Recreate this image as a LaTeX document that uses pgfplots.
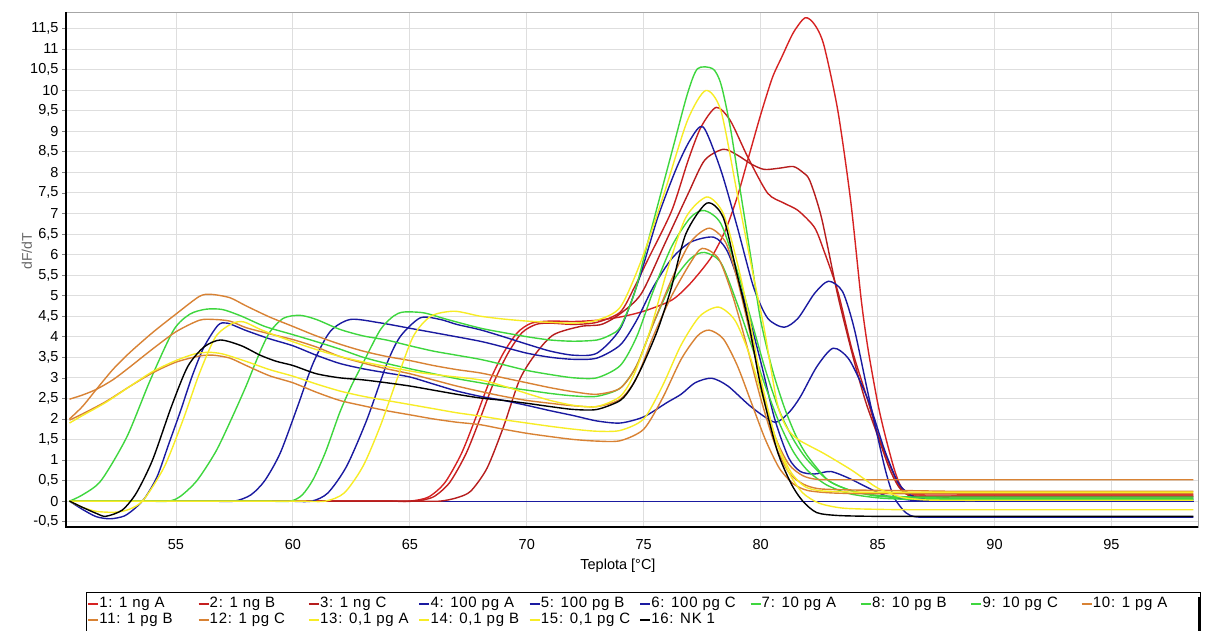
\documentclass[border=0pt]{standalone}
\usepackage{fontspec}
\setmainfont{Liberation Sans}
\newfontfamily\legfont[LetterSpace=5]{Liberation Sans}
\usepackage{pgfplots}
\pgfplotsset{compat=1.18}
\definecolor{cred}{RGB}{214,34,34}
\definecolor{cblue}{RGB}{26,26,160}
\definecolor{cgreen}{RGB}{62,214,62}
\definecolor{corange}{RGB}{216,130,52}
\definecolor{cyellow}{RGB}{247,236,38}
\newcommand{\lb}[2][98pt]{\makebox[#1][l]{#2}}
\begin{document}
\begin{tikzpicture}[x=1pt,y=1pt]
\path[use as bounding box] (0,0) rectangle (1209,630);
\begin{axis}[
  at={(66pt,103pt)}, anchor=south west,
  width=1132pt, height=515pt, scale only axis,
  xmin=50.3, xmax=98.7, ymin=-0.63, ymax=11.9,
  enlargelimits=false,
  xtick={55,60,...,95},
  ytick={-0.5,0,0.5,1,1.5,2,2.5,3,3.5,4,4.5,5,5.5,6,6.5,7,7.5,8,8.5,9,9.5,10,10.5,11,11.5},
  tick label style={font=\fontsize{14.5}{16}\selectfont},
  /pgf/number format/assume math mode=true,
  yticklabel style={/pgf/number format/.cd, fixed, precision=1, use comma},
  xticklabel style={/pgf/number format/.cd, fixed, precision=0, /tikz/.cd, yshift=-5pt},
  tick align=outside, tick pos=left,
  xtick style={draw=none},
  ytick style={draw=gray, line width=0.6pt},
  major tick length=4pt,
  grid=major,
  grid style={draw=black!13, line width=0.8pt},
  axis line style={draw=gray!70, line width=0.8pt},
  xlabel={Teplota [°C]},
  xlabel style={at={(axis description cs:0.4876,0)}, anchor=north, yshift=-28pt, font=\fontsize{14.5}{16}\selectfont},
  ylabel={dF/dT},
  ylabel style={at={(axis description cs:-0.0345,0.535)}, anchor=center, font=\fontsize{14}{16}\selectfont, color=black!60},
  every axis plot/.append style={line width=1.4pt, smooth, tension=0.45},
  legend columns=10,
  legend cell align=left,
  legend image code/.code={\draw[#1] (0pt,0pt) -- (10pt,0pt);},
  legend style={at={(0.01767,-0.1262)}, anchor=north west, draw=black, line width=0.8pt,
    inner xsep=1pt, inner ysep=3.5pt,
    font=\legfont\fontsize{15}{16}\selectfont,
    nodes={inner sep=0.5pt, text height=11pt, text depth=4pt, anchor=west},
    /tikz/column sep=0pt},
  after end axis/.code={\draw[black, line width=2pt] (rel axis cs:0,1) -- (rel axis cs:0,0) -- (rel axis cs:1,0);},
]
% baseline
\addplot[cblue, line width=0.9pt, forget plot] coordinates {(50.45,0) (98.5,0)};
% 1: 1 ng A
\addplot[cred] coordinates {(50.45,0) (63,0) (64,0) (65.0,0) (65.8,0.1) (66.5,0.45) (67.2,1.15) (67.8,2.0) (68.4,2.9) (69.0,3.6) (69.6,4.1) (70.2,4.33) (71,4.38) (72,4.37) (73,4.4) (74,4.48) (75,4.62) (76.2,4.89) (77,5.3) (77.9,5.94) (78.5,6.6) (79.0,7.4) (79.5,8.4) (80.0,9.4) (80.5,10.3) (80.9,10.8) (81.4,11.4) (81.9,11.76) (82.3,11.6) (82.7,11.1) (83.3,9.5) (83.85,7.3) (84.3,4.9) (84.6,3.67) (85.0,2.4) (85.3,1.65) (85.7,0.8) (86.0,0.35) (86.4,0.18) (87,0.15) (88.5,0.15) (90,0.15) (98.5,0.15)};
\addlegendentry{\lb{1: 1 ng A}}
% 2: 1 ng B
\addplot[cred!92!black] coordinates {(50.45,0) (63.2,0) (64.2,0) (65.2,0) (66,0.1) (66.7,0.45) (67.4,1.15) (68,2.0) (68.6,2.9) (69.2,3.6) (69.8,4.1) (70.4,4.3) (71,4.33) (72,4.3) (73,4.35) (74,4.6) (74.6,5.2) (75.2,5.9) (76.2,7.07) (76.9,8.29) (77.45,9.1) (78.1,9.58) (78.7,9.26) (79.45,8.37) (80.3,7.49) (81.0,7.25) (81.6,7.07) (82.3,6.66) (82.7,6.1) (83.3,5.1) (83.9,3.7) (84.5,2.6) (85.0,1.65) (85.5,0.9) (85.9,0.4) (86.3,0.15) (87,0.12) (88.5,0.12) (90,0.12) (98.5,0.12)};
\addlegendentry{\lb{2: 1 ng B}}
% 3: 1 ng C
\addplot[cred!85!black] coordinates {(50.45,0) (64.3,0) (65.3,0) (66.3,0) (67,0.08) (67.6,0.24) (68.3,0.8) (69.0,1.8) (69.7,2.96) (70.4,3.6) (71.15,4.05) (72.3,4.25) (73.2,4.3) (74,4.56) (74.9,5.05) (75.9,6.26) (76.9,7.48) (77.6,8.29) (78.4,8.56) (79.0,8.42) (79.6,8.2) (80.15,8.07) (80.8,8.1) (81.4,8.14) (81.8,8.0) (82.1,7.8) (82.6,6.9) (83.3,5.0) (84,3.4) (84.5,2.4) (85,1.6) (85.5,0.8) (85.9,0.35) (86.3,0.15) (87,0.1) (88.5,0.1) (90,0.1) (98.5,0.1)};
\addlegendentry{\lb{3: 1 ng C}}
% 4: 100 pg A
\addplot[cblue] coordinates {(50.45,0) (51,-0.2) (51.6,-0.38) (52.2,-0.43) (52.8,-0.36) (53.3,-0.15) (53.7,0.1) (54.2,0.6) (54.7,1.4) (55.2,2.2) (55.7,3.05) (56.2,3.75) (56.8,4.28) (57.2,4.33) (58,4.15) (59,3.95) (60,3.78) (61,3.55) (62,3.35) (63,3.22) (64,3.12) (65,3.02) (66,2.85) (67,2.68) (68,2.55) (69,2.45) (70,2.33) (71,2.2) (72,2.08) (73,1.95) (74,1.9) (75,2.05) (76,2.4) (76.6,2.6) (77.2,2.88) (77.9,2.99) (78.6,2.8) (79.6,2.29) (80.6,1.92) (81.2,2.15) (81.7,2.54) (82.4,3.27) (83.1,3.72) (83.8,3.43) (84.6,2.45) (85.3,1.24) (85.9,0.43) (86.5,0.12) (87.2,0.06) (88.7,0.05) (90.2,0.05) (98.5,0.05)};
\addlegendentry{\lb{4: 100 pg A}}
% 5: 100 pg B
\addplot[cblue] coordinates {(50.45,0) (55.5,0) (56.5,0) (57.5,0) (58.2,0.15) (58.8,0.5) (59.46,1.17) (60.2,2.3) (60.87,3.36) (61.6,4.13) (62.46,4.42) (63.7,4.34) (65.15,4.19) (66.5,4.05) (68,3.89) (69,3.75) (70,3.6) (71,3.5) (72,3.45) (73,3.48) (74,3.8) (74.7,4.4) (75.4,5.2) (76.2,5.9) (77,6.3) (78,6.42) (78.6,6.05) (79.3,4.9) (80,3.4) (80.6,2.0) (81.2,1.05) (81.7,0.72) (82.3,0.66) (83,0.72) (83.8,0.55) (84.5,0.35) (85.4,0.12) (86.5,0.02) (88,0.0) (89.5,0.0) (98.5,0.0)};
\addlegendentry{\lb{5: 100 pg B}}
% 6: 100 pg C
\addplot[cblue] coordinates {(50.45,0) (58.8,0) (59.8,0) (60.8,0) (61.5,0.2) (62.3,0.85) (63.17,1.99) (64.03,3.36) (64.6,4.01) (65.45,4.46) (66.3,4.42) (67,4.3) (68,4.17) (69,4.0) (70,3.82) (71,3.65) (72,3.55) (73,3.6) (74,4.2) (74.8,5.4) (75.6,6.9) (76.4,8.1) (77,8.8) (77.55,9.1) (78.3,8.05) (79.0,6.67) (79.7,5.2) (80.3,4.45) (81.0,4.23) (81.6,4.45) (82.3,5.05) (82.9,5.35) (83.5,5.1) (84.0,4.2) (84.6,2.6) (85.3,0.83) (85.7,0.1) (86.2,-0.28) (86.6,-0.38) (87.2,-0.39) (88.7,-0.39) (90.2,-0.39) (98.5,-0.39)};
\addlegendentry{\lb{6: 100 pg C}}
% 7: 10 pg A
\addplot[cgreen] coordinates {(50.45,0) (51,0.15) (51.8,0.5) (52.9,1.56) (53.9,2.94) (54.9,4.16) (55.6,4.55) (56.3,4.67) (57,4.66) (57.8,4.5) (58.8,4.25) (60,4.05) (61,3.88) (62,3.7) (63,3.5) (64,3.35) (65,3.22) (66,3.1) (67,2.98) (68,2.88) (69,2.78) (70,2.7) (71,2.62) (72,2.56) (73,2.55) (74,2.75) (74.7,3.3) (75.4,4.3) (76.2,5.3) (77,5.9) (77.6,6.05) (78.3,5.8) (79,4.8) (79.6,3.8) (80.2,2.8) (80.8,1.9) (81.4,1.2) (82,0.75) (82.8,0.4) (83.8,0.18) (85,0.08) (86,0.05) (87.5,0.04) (89,0.04) (98.5,0.04)};
\addlegendentry{\lb{7: 10 pg A}}
% 8: 10 pg B
\addplot[cgreen] coordinates {(50.45,0) (52.7,0) (53.7,0) (54.7,0) (55.2,0.12) (55.9,0.5) (56.7,1.2) (57.35,1.97) (58,2.8) (58.5,3.5) (59,4.1) (59.6,4.45) (60.3,4.52) (61,4.42) (62,4.18) (63,4.02) (64,3.92) (65,3.78) (66,3.65) (67,3.55) (68,3.45) (69,3.32) (70,3.18) (71,3.08) (72,3.0) (73,3.0) (74,3.3) (74.7,4.0) (75.4,5.1) (76.2,6.2) (77,6.9) (77.6,7.07) (78.3,6.75) (79,5.6) (79.6,4.4) (80.2,3.2) (80.8,2.2) (81.4,1.5) (82,1.0) (82.9,0.5) (83.9,0.25) (85,0.14) (86.5,0.1) (88,0.1) (89.5,0.1) (98.5,0.1)};
\addlegendentry{\lb{8: 10 pg B}}
% 9: 10 pg C
\addplot[cgreen] coordinates {(50.45,0) (57.9,0) (58.9,0) (59.9,0) (60.4,0.15) (60.87,0.53) (61.4,1.2) (62.0,2.15) (62.5,2.8) (63.0,3.36) (63.74,4.17) (64.3,4.5) (64.73,4.6) (65.6,4.58) (66.6,4.42) (68,4.21) (69,4.1) (70,4.0) (71,3.92) (72,3.89) (73,3.92) (73.6,4.05) (74.0,4.24) (74.6,5.05) (75.16,6.26) (75.73,7.48) (76.3,8.7) (76.87,9.91) (77.3,10.52) (77.95,10.52) (78.3,10.15) (78.7,9.1) (79.15,7.48) (79.6,5.86) (80.0,4.4) (80.5,3.2) (81.0,2.3) (81.5,1.6) (82.0,1.1) (82.9,0.5) (83.9,0.25) (85,0.12) (86.5,0.08) (88,0.07) (89.5,0.07) (98.5,0.07)};
\addlegendentry{\lb{9: 10 pg C}}
% 10: 1 pg A
\addplot[corange] coordinates {(50.45,2.0) (51,2.3) (51.6,2.72) (52.3,3.2) (53,3.6) (54,4.1) (55,4.55) (56,4.98) (56.5,5.03) (57.3,4.95) (58,4.75) (59,4.48) (60,4.25) (61,4.02) (62,3.82) (63,3.65) (64,3.52) (65,3.42) (66,3.3) (67,3.2) (68,3.12) (69,3.0) (70,2.88) (71,2.76) (72,2.66) (73,2.6) (74,2.75) (74.7,3.3) (75.4,4.3) (76.2,5.4) (77,6.3) (77.8,6.64) (78.5,6.3) (79,5.4) (79.5,4.2) (80,2.9) (80.6,1.6) (81.2,0.9) (81.8,0.62) (82.4,0.53) (83.5,0.52) (85,0.52) (86.5,0.52) (98.5,0.52)};
\addlegendentry{\lb[106pt]{10: 1 pg A}}
% 11: 1 pg B
\addplot[corange] coordinates {(50.45,2.48) (51,2.58) (51.6,2.72) (52.3,2.95) (53,3.25) (54,3.7) (55,4.12) (56,4.4) (56.6,4.42) (57.3,4.38) (58,4.22) (59,4.07) (60,3.93) (61,3.75) (62,3.52) (63,3.36) (64,3.22) (65,3.1) (66,2.95) (67,2.8) (68,2.67) (69,2.55) (70,2.45) (71,2.38) (72,2.32) (73,2.3) (74,2.48) (74.7,3.0) (75.4,4.0) (76.2,5.0) (77,5.8) (77.5,6.15) (78.2,5.9) (78.8,5.0) (79.4,3.8) (80,2.5) (80.6,1.4) (81.2,0.7) (81.8,0.42) (82.5,0.3) (84,0.27) (85.5,0.26) (87,0.25) (88.5,0.24) (98.5,0.24)};
\addlegendentry{\lb{11: 1 pg B}}
% 12: 1 pg C
\addplot[corange] coordinates {(50.45,1.97) (51,2.12) (52,2.42) (53,2.78) (54,3.12) (55,3.38) (56,3.53) (56.6,3.55) (57.3,3.48) (58,3.3) (59,3.05) (60,2.88) (61,2.65) (62,2.45) (63,2.32) (64,2.2) (65,2.1) (66,2.0) (67,1.92) (68,1.86) (69,1.75) (70,1.65) (71,1.57) (72,1.5) (73,1.46) (74,1.47) (75,1.75) (75.8,2.5) (76.6,3.45) (77.3,4.02) (77.8,4.16) (78.4,3.95) (79,3.3) (79.6,2.4) (80.2,1.5) (80.8,0.8) (81.4,0.42) (82,0.26) (83,0.2) (84.5,0.18) (86,0.18) (98.5,0.18)};
\addlegendentry{\lb{12: 1 pg C}}
% 13: 0,1 pg A
\addplot[cyellow] coordinates {(50.45,1.9) (51,2.08) (52,2.4) (53,2.78) (54,3.15) (55,3.42) (55.8,3.58) (56.4,3.62) (57,3.58) (58,3.4) (59,3.2) (60,3.04) (61,2.85) (62,2.68) (63,2.55) (64,2.45) (65,2.35) (66,2.25) (67,2.15) (68,2.07) (69,1.98) (70,1.9) (71,1.82) (72,1.75) (73,1.7) (74,1.72) (75,2.0) (75.8,2.8) (76.6,3.8) (77.4,4.5) (78.2,4.72) (78.9,4.4) (79.5,3.6) (80.1,2.5) (80.7,1.4) (81.3,0.7) (81.9,0.35) (82.6,0.25) (84,0.22) (85.5,0.22) (87,0.22) (98.5,0.22)};
\addlegendentry{\lb{13: 0,1 pg A}}
% 14: 0,1 pg B
\addplot[cyellow] coordinates {(50.45,0) (51,-0.15) (51.6,-0.25) (52.4,-0.27) (53,-0.2) (53.6,0.02) (54.5,0.83) (55.3,1.97) (56.0,3.1) (56.7,4.0) (57.4,4.32) (57.9,4.36) (58.6,4.18) (59.5,3.98) (60.5,3.78) (61.5,3.6) (62.5,3.45) (63.5,3.33) (64.5,3.22) (65.5,3.12) (66.5,3.05) (68,2.95) (69,2.8) (70,2.62) (71,2.45) (72,2.33) (73,2.3) (74,2.55) (74.6,3.1) (75.3,4.2) (76,5.6) (76.8,6.9) (77.7,7.4) (78.4,7.0) (79,5.8) (79.5,4.5) (80,3.0) (80.6,1.6) (81.2,0.7) (81.8,0.2) (82.5,-0.05) (83.5,-0.17) (85,-0.2) (86.5,-0.21) (88,-0.21) (98.5,-0.21)};
\addlegendentry{\lb{14: 0,1 pg B}}
% 15: 0,1 pg C
\addplot[cyellow] coordinates {(50.45,0) (59.4,0) (60.4,0) (61.4,0) (62.2,0.2) (63.0,0.85) (63.74,1.83) (64.45,2.96) (65.15,4.01) (65.9,4.5) (66.9,4.62) (68,4.5) (69,4.43) (70,4.38) (71,4.35) (72,4.33) (73,4.4) (74,4.72) (74.9,5.86) (75.87,7.48) (76.87,9.26) (77.65,9.99) (78.3,9.5) (79.0,7.48) (79.7,5.45) (80.15,4.2) (80.7,2.4) (81.1,1.8) (81.6,1.5) (82.7,1.16) (83.9,0.75) (85,0.32) (86,0.1) (87,0.03) (88.5,0.02) (90,0.02) (98.5,0.02)};
\addlegendentry{\lb{15: 0,1 pg C}}
% 16: NK 1
\addplot[black] coordinates {(50.45,0) (51,-0.15) (51.6,-0.3) (52.0,-0.37) (52.7,-0.22) (53.3,0.19) (54,1.0) (54.8,2.29) (55.5,3.27) (56.2,3.75) (56.9,3.92) (57.8,3.78) (58.6,3.55) (59.3,3.4) (60,3.3) (61,3.1) (62,3.0) (63,2.95) (64,2.88) (65,2.8) (66,2.7) (67,2.6) (68,2.51) (69,2.45) (70,2.38) (71,2.3) (72,2.23) (73,2.23) (74,2.45) (74.5,2.8) (75,3.36) (75.6,4.17) (76.16,5.15) (76.8,6.5) (77.7,7.25) (78.4,6.9) (79,5.5) (79.5,4.3) (80,2.8) (80.7,1.24) (81.3,0.43) (81.8,0.0) (82.4,-0.28) (83.3,-0.35) (84.8,-0.37) (86.3,-0.37) (98.5,-0.37)};
\addlegendentry{\lb{16: NK 1}}
\end{axis}
\draw[black, line width=3pt] (1199.5,33) -- (1199.5,-2);
\end{tikzpicture}
\end{document}
